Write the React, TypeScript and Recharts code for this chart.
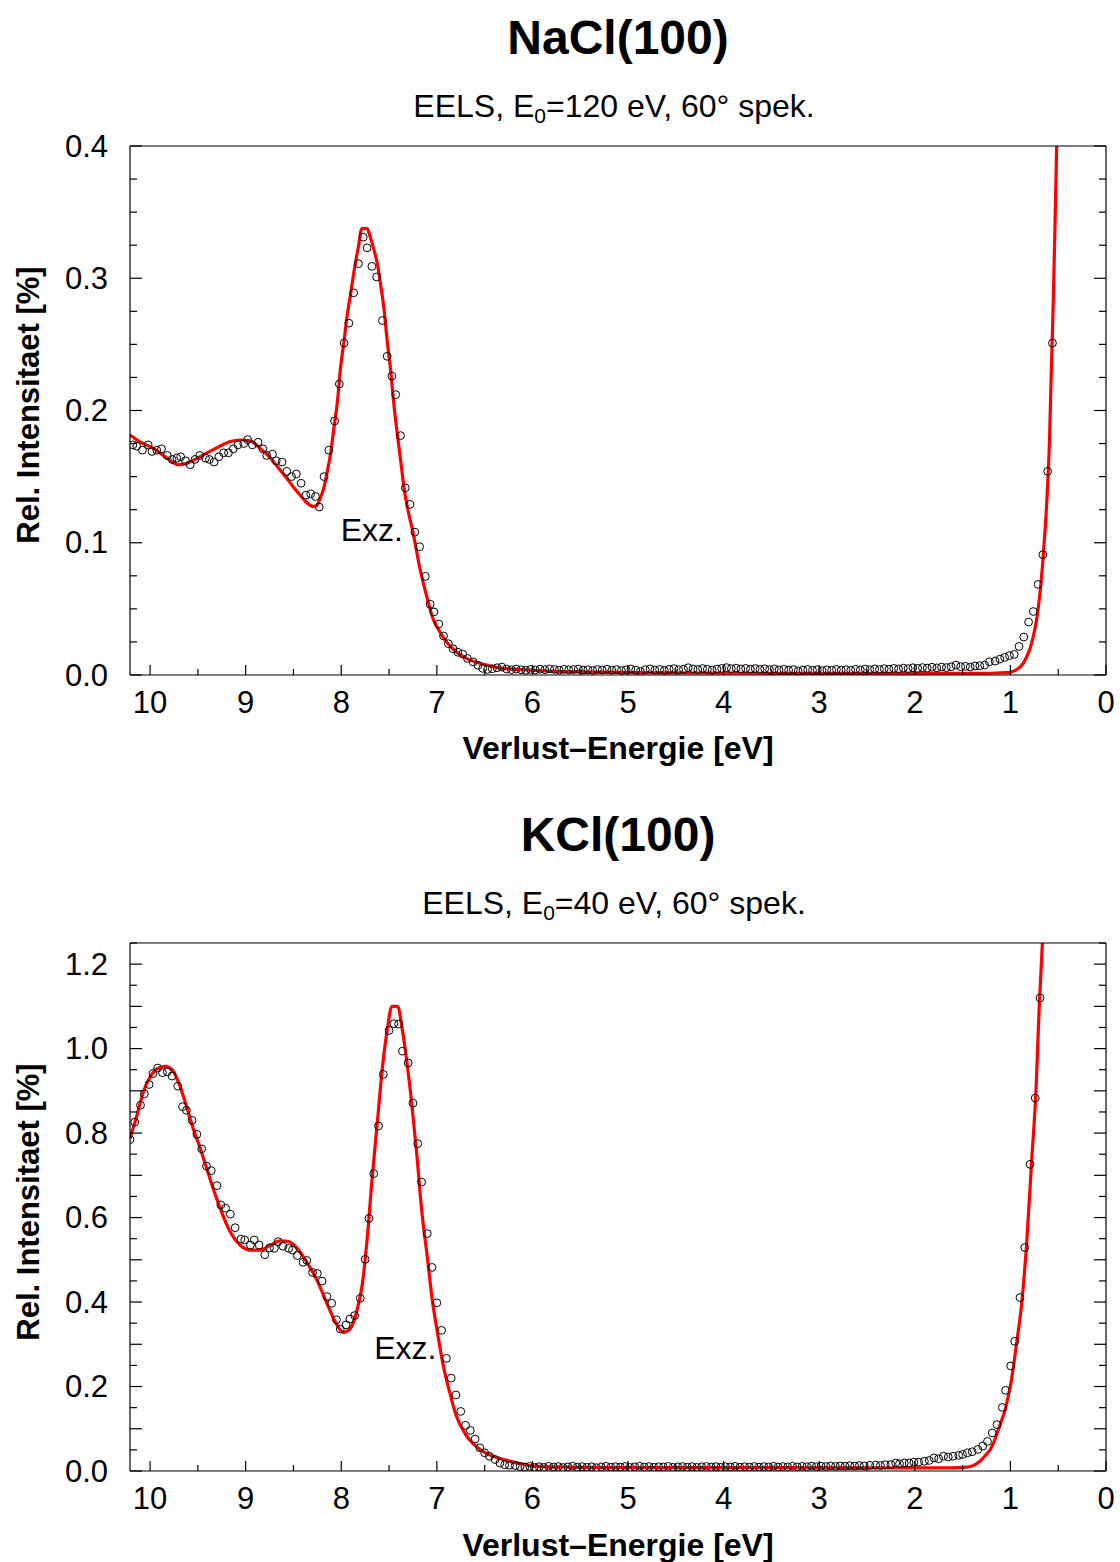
import React from 'react';
import { ComposedChart, Line, Scatter, XAxis, YAxis, ReferenceDot } from 'recharts';

const FONT = "'Liberation Sans', Arial, Helvetica, sans-serif";

// ---------- axis ticks ----------
const X_TICKS = [0, 0.5, 1, 1.5, 2, 2.5, 3, 3.5, 4, 4.5, 5, 5.5, 6, 6.5, 7, 7.5, 8, 8.5, 9, 9.5, 10];
const X_LABELS = [0, 1, 2, 3, 4, 5, 6, 7, 8, 9, 10];
const X_DOMAIN: [number, number] = [0, 10.21];

const NACL_Y_DOMAIN: [number, number] = [0, 0.4];
const NACL_Y_TICKS = [0, 0.025, 0.05, 0.075, 0.1, 0.125, 0.15, 0.175, 0.2, 0.225, 0.25, 0.275, 0.3, 0.325, 0.35, 0.375, 0.4];
const NACL_Y_MAJOR = [0, 0.1, 0.2, 0.3, 0.4];
const NACL_Y_LABELS = [0, 0.1, 0.2, 0.3, 0.4];

const KCL_Y_DOMAIN: [number, number] = [0, 1.25];
const KCL_Y_TICKS = [0, 0.05, 0.1, 0.15, 0.2, 0.25, 0.3, 0.35, 0.4, 0.45, 0.5, 0.55, 0.6, 0.65, 0.7, 0.75, 0.8, 0.85, 0.9, 0.95, 1.0, 1.05, 1.1, 1.15, 1.2, 1.25];
const KCL_Y_MAJOR = [0, 0.1, 0.2, 0.3, 0.4, 0.5, 0.6, 0.7, 0.8, 0.9, 1.0, 1.1, 1.2];
const KCL_Y_LABELS = [0, 0.2, 0.4, 0.6, 0.8, 1.0, 1.2];

// ---------- NaCl(100) data: [energy eV, rel. intensity %] ----------
const naclMeasured: [number, number][] = [
  [10.18, 0.174], [10.14, 0.173], [10.08, 0.170], [10.02, 0.174], [9.98, 0.169], [9.93, 0.170], [9.88, 0.171],
  [9.82, 0.166], [9.77, 0.163], [9.72, 0.164], [9.68, 0.165], [9.63, 0.162], [9.58, 0.159], [9.53, 0.163],
  [9.48, 0.166], [9.42, 0.164], [9.38, 0.163], [9.33, 0.161], [9.28, 0.165], [9.23, 0.168], [9.18, 0.168],
  [9.13, 0.171], [9.08, 0.174], [9.02, 0.175], [8.98, 0.178], [8.93, 0.174], [8.87, 0.176], [8.82, 0.171],
  [8.78, 0.166], [8.72, 0.167], [8.68, 0.162], [8.62, 0.161], [8.57, 0.154], [8.52, 0.150], [8.47, 0.152],
  [8.42, 0.145], [8.37, 0.136], [8.32, 0.137], [8.27, 0.135], [8.23, 0.127], [8.18, 0.150], [8.13, 0.170],
  [8.07, 0.192], [8.02, 0.220], [7.97, 0.251], [7.92, 0.266], [7.87, 0.289], [7.82, 0.311], [7.77, 0.331],
  [7.73, 0.323], [7.68, 0.309], [7.63, 0.301], [7.57, 0.268], [7.52, 0.241], [7.47, 0.226], [7.43, 0.212],
  [7.38, 0.181], [7.33, 0.1415], [7.28, 0.129], [7.23, 0.108], [7.18, 0.097], [7.12, 0.0746], [7.07, 0.0535],
  [7.03, 0.0477], [6.98, 0.0386], [6.93, 0.0295], [6.88, 0.0237], [6.83, 0.0198], [6.78, 0.0172], [6.73, 0.0159],
  [6.68, 0.0125], [6.62, 0.0099], [6.57, 0.0073], [6.52, 0.005], [6.47, 0.0042], [6.42, 0.0047], [6.37, 0.0055],
  [6.32, 0.006], [6.27, 0.0045], [6.22, 0.004], [6.17, 0.0045], [6.12, 0.004], [6.07, 0.0035], [6.02, 0.0042],
  [5.97, 0.0038], [5.92, 0.0044], [5.87, 0.004], [5.82, 0.0046], [5.77, 0.0042], [5.72, 0.0036], [5.67, 0.0043],
  [5.62, 0.0039], [5.57, 0.0041], [5.52, 0.0045], [5.47, 0.0037], [5.42, 0.004], [5.37, 0.0034], [5.32, 0.0042],
  [5.27, 0.0038], [5.22, 0.0044], [5.17, 0.0036], [5.12, 0.0041], [5.07, 0.0033], [5.02, 0.0039], [4.97, 0.0045],
  [4.92, 0.0037], [4.87, 0.0026], [4.82, 0.004], [4.77, 0.0046], [4.72, 0.0038], [4.67, 0.0042], [4.62, 0.0035],
  [4.57, 0.0043], [4.52, 0.0048], [4.47, 0.004], [4.42, 0.0044], [4.37, 0.0055], [4.32, 0.0046], [4.27, 0.0041],
  [4.22, 0.0049], [4.17, 0.0043], [4.12, 0.0038], [4.07, 0.0045], [4.02, 0.005], [3.97, 0.0056], [3.92, 0.0048],
  [3.87, 0.0052], [3.82, 0.0046], [3.77, 0.005], [3.72, 0.0044], [3.67, 0.0049], [3.62, 0.0042], [3.57, 0.0047],
  [3.52, 0.004], [3.47, 0.0046], [3.42, 0.0038], [3.37, 0.0043], [3.32, 0.0036], [3.27, 0.0041], [3.22, 0.003],
  [3.17, 0.0037], [3.12, 0.0042], [3.07, 0.0035], [3.02, 0.004], [2.97, 0.0033], [2.92, 0.0039], [2.87, 0.0036],
  [2.82, 0.0042], [2.77, 0.0037], [2.72, 0.004], [2.67, 0.0035], [2.62, 0.0043], [2.57, 0.0038], [2.52, 0.0045],
  [2.47, 0.004], [2.42, 0.0046], [2.37, 0.0041], [2.32, 0.0048], [2.27, 0.0043], [2.22, 0.005], [2.17, 0.0046],
  [2.12, 0.0052], [2.07, 0.0048], [2.02, 0.0055], [1.97, 0.005], [1.92, 0.0056], [1.87, 0.0052], [1.82, 0.0059],
  [1.77, 0.0054], [1.72, 0.006], [1.67, 0.0056], [1.62, 0.0062], [1.57, 0.0075], [1.52, 0.0063], [1.47, 0.0066],
  [1.42, 0.006], [1.37, 0.0068], [1.32, 0.007], [1.27, 0.0075], [1.22, 0.01], [1.16, 0.0105], [1.11, 0.012],
  [1.06, 0.0133], [1.01, 0.0146], [0.96, 0.0156], [0.91, 0.0216], [0.86, 0.0287], [0.81, 0.04], [0.76, 0.048],
  [0.71, 0.0685], [0.66, 0.091], [0.61, 0.154], [0.56, 0.251],
];

const naclFit: [number, number][] = [
  [10.21, 0.1815], [10.1, 0.176], [9.965, 0.1714], [9.82, 0.1638], [9.7, 0.159], [9.62, 0.16], [9.53, 0.163],
  [9.44, 0.1667], [9.35, 0.17], [9.27, 0.173], [9.16, 0.1765], [9.06, 0.1777], [8.95, 0.177], [8.85, 0.1714],
  [8.78, 0.167], [8.71, 0.1613], [8.64, 0.155], [8.57, 0.1487], [8.5, 0.142], [8.43, 0.136], [8.37, 0.131],
  [8.33, 0.1285], [8.29, 0.1275], [8.26, 0.128], [8.22, 0.1336], [8.18, 0.142], [8.15, 0.1525], [8.11, 0.168],
  [8.08, 0.185], [8.04, 0.207], [8.01, 0.2306], [7.97, 0.253], [7.94, 0.271], [7.9, 0.289], [7.87, 0.3037],
  [7.82, 0.324], [7.785, 0.3376], [7.73, 0.3376], [7.7, 0.332], [7.66, 0.322], [7.62, 0.31], [7.59, 0.296],
  [7.55, 0.275], [7.52, 0.253], [7.48, 0.228], [7.45, 0.205], [7.41, 0.18], [7.38, 0.163], [7.34, 0.14],
  [7.3, 0.124], [7.25, 0.108], [7.18, 0.0815], [7.11, 0.0606], [7.04, 0.0425], [6.98, 0.034], [6.93, 0.0281],
  [6.83, 0.0196], [6.69, 0.0126], [6.51, 0.0081], [6.34, 0.0053], [6.15, 0.0042], [5.99, 0.0034], [5.6, 0.0025],
  [5.29, 0.0021], [4.8, 0.0017], [4.25, 0.0015], [3.5, 0.0013], [2.7, 0.0012], [2.0, 0.0012], [1.5, 0.0012],
  [1.28, 0.0013], [1.15, 0.0015], [1.05, 0.0018], [1.0, 0.002], [0.95, 0.0035], [0.9, 0.0059], [0.86, 0.0095],
  [0.83, 0.0137], [0.79, 0.021], [0.76, 0.0293], [0.73, 0.04], [0.71, 0.05], [0.685, 0.066], [0.66, 0.0867],
  [0.635, 0.112], [0.61, 0.144], [0.59, 0.18], [0.575, 0.222], [0.56, 0.26], [0.55, 0.287], [0.53, 0.352],
  [0.516, 0.4006], [0.5, 0.46],
];

// ---------- KCl(100) data ----------
const kclMeasured: [number, number][] = [
  [10.21, 0.7845], [10.16, 0.826], [10.1, 0.866], [10.06, 0.893], [10.01, 0.915], [9.97, 0.941], [9.92, 0.954],
  [9.87, 0.943], [9.82, 0.945], [9.77, 0.935], [9.71, 0.911], [9.66, 0.8625], [9.62, 0.854], [9.56, 0.83],
  [9.51, 0.797], [9.46, 0.7626], [9.41, 0.722], [9.36, 0.711], [9.3, 0.6756], [9.26, 0.63], [9.21, 0.622],
  [9.16, 0.608], [9.11, 0.576], [9.05, 0.549], [9.01, 0.547], [8.95, 0.535], [8.91, 0.547], [8.86, 0.535],
  [8.8, 0.512], [8.75, 0.528], [8.7, 0.527], [8.66, 0.543], [8.61, 0.532], [8.55, 0.527], [8.51, 0.523],
  [8.46, 0.51], [8.4, 0.494], [8.36, 0.4985], [8.3, 0.47], [8.25, 0.4676], [8.2, 0.4496], [8.15, 0.413],
  [8.1, 0.397], [8.05, 0.358], [8.01, 0.336], [7.95, 0.346], [7.91, 0.36], [7.86, 0.368], [7.8, 0.409],
  [7.75, 0.501], [7.71, 0.598], [7.66, 0.704], [7.61, 0.817], [7.56, 0.939], [7.5, 1.043], [7.45, 1.059],
  [7.4, 1.058], [7.36, 0.994], [7.3, 0.966], [7.25, 0.871], [7.2, 0.775], [7.16, 0.684], [7.1, 0.562],
  [7.05, 0.482], [7.0, 0.398], [6.95, 0.333], [6.9, 0.2667], [6.85, 0.22], [6.8, 0.18], [6.75, 0.141],
  [6.7, 0.108], [6.65, 0.096], [6.6, 0.0756], [6.55, 0.055], [6.5, 0.043], [6.45, 0.035], [6.39, 0.027],
  [6.34, 0.0187], [6.29, 0.0147], [6.24, 0.0135], [6.18, 0.013], [6.13, 0.0106], [6.08, 0.0095], [6.03, 0.011],
  [5.98, 0.0088], [5.93, 0.0102], [5.88, 0.0085], [5.83, 0.0112], [5.78, 0.0094], [5.73, 0.0105], [5.68, 0.0082],
  [5.63, 0.0098], [5.58, 0.0114], [5.53, 0.009], [5.48, 0.0104], [5.43, 0.0086], [5.38, 0.01], [5.33, 0.0078],
  [5.28, 0.0096], [5.23, 0.011], [5.18, 0.0088], [5.13, 0.0102], [5.08, 0.0092], [5.03, 0.0108], [4.98, 0.0084],
  [4.93, 0.0099], [4.88, 0.0112], [4.83, 0.0093], [4.78, 0.0105], [4.73, 0.0087], [4.68, 0.0101], [4.63, 0.0094],
  [4.58, 0.011], [4.53, 0.0086], [4.48, 0.0098], [4.43, 0.0106], [4.38, 0.009], [4.33, 0.0103], [4.28, 0.0085],
  [4.23, 0.0099], [4.18, 0.0108], [4.13, 0.0092], [4.08, 0.0104], [4.03, 0.0088], [3.98, 0.0101], [3.93, 0.0095],
  [3.88, 0.011], [3.83, 0.0089], [3.78, 0.0102], [3.73, 0.0093], [3.68, 0.0107], [3.63, 0.009], [3.58, 0.0104],
  [3.53, 0.0096], [3.48, 0.0112], [3.43, 0.0094], [3.38, 0.0106], [3.33, 0.0098], [3.28, 0.0113], [3.23, 0.0097],
  [3.18, 0.0109], [3.13, 0.01], [3.08, 0.0116], [3.03, 0.0102], [2.98, 0.0112], [2.93, 0.0105], [2.88, 0.0119],
  [2.83, 0.0108], [2.78, 0.0121], [2.73, 0.0112], [2.68, 0.0126], [2.63, 0.0117], [2.58, 0.0128], [2.53, 0.0122],
  [2.47, 0.0134], [2.41, 0.014], [2.36, 0.013], [2.31, 0.015], [2.25, 0.015], [2.2, 0.019], [2.16, 0.017],
  [2.11, 0.019], [2.06, 0.019], [2.01, 0.021], [1.96, 0.021], [1.9, 0.023], [1.85, 0.025], [1.8, 0.031],
  [1.75, 0.029], [1.7, 0.035], [1.65, 0.033], [1.6, 0.035], [1.54, 0.037], [1.5, 0.039], [1.45, 0.043],
  [1.4, 0.0456], [1.34, 0.051], [1.29, 0.059], [1.24, 0.07], [1.19, 0.09], [1.14, 0.1098], [1.085, 0.1505],
  [1.05, 0.191], [0.997, 0.249], [0.955, 0.307], [0.9, 0.4106], [0.85, 0.529], [0.795, 0.726], [0.74, 0.883],
  [0.69, 1.12],
];

const kclFit: [number, number][] = [
  [10.21, 0.787], [10.14, 0.84], [10.07, 0.897], [10.0, 0.933], [9.91, 0.954], [9.84, 0.958], [9.77, 0.95],
  [9.69, 0.913], [9.62, 0.864], [9.55, 0.8115], [9.48, 0.767], [9.41, 0.718], [9.34, 0.669], [9.27, 0.624],
  [9.2, 0.584], [9.13, 0.554], [9.06, 0.535], [8.95, 0.523], [8.85, 0.523], [8.74, 0.535], [8.64, 0.545],
  [8.55, 0.543], [8.46, 0.527], [8.36, 0.494], [8.25, 0.4496], [8.15, 0.397], [8.05, 0.348], [7.98, 0.328],
  [7.91, 0.336], [7.84, 0.3765], [7.78, 0.4415], [7.73, 0.547], [7.68, 0.685], [7.62, 0.832], [7.57, 0.954],
  [7.52, 1.043], [7.47, 1.1], [7.41, 1.1], [7.36, 1.043], [7.31, 0.962], [7.26, 0.864], [7.21, 0.75],
  [7.16, 0.62], [7.1, 0.5065], [7.05, 0.409], [7.0, 0.336], [6.93, 0.2464], [6.86, 0.1814], [6.8, 0.1325],
  [6.69, 0.0838], [6.55, 0.051], [6.41, 0.035], [6.27, 0.0252], [6.13, 0.0175], [5.99, 0.0115], [5.7, 0.009],
  [5.29, 0.0083], [4.5, 0.008], [3.5, 0.0078], [2.5, 0.0076], [1.8, 0.0072], [1.6, 0.0075], [1.5, 0.0085],
  [1.42, 0.0106], [1.37, 0.015], [1.32, 0.023], [1.27, 0.035], [1.21, 0.051], [1.17, 0.07], [1.135, 0.092],
  [1.1, 0.115], [1.06, 0.141], [1.02, 0.18], [0.99, 0.214], [0.94, 0.295], [0.88, 0.401], [0.83, 0.539],
  [0.78, 0.726], [0.73, 0.913], [0.7, 1.092], [0.665, 1.25], [0.64, 1.35],
];

const toRows = (arr: [number, number][]) => arr.map(([e, v]) => ({ e, v }));

const has = (list: number[], v: number) => list.some((m) => Math.abs(m - v) < 1e-6);

const makeXTick = (side: 'bottom' | 'top') => (props: any) => {
  const { x, y, payload } = props;
  const v = payload.value;
  const major = has(X_LABELS, v);
  const len = major ? 10 : 6;
  const dir = side === 'bottom' ? -1 : 1;
  return (
    <g>
      <line x1={x} x2={x} y1={y} y2={y + dir * len} stroke="#000" strokeWidth={1.2} />
      {side === 'bottom' && major && (
        <text x={x} y={y + 27} textAnchor="middle" dominantBaseline="central" fontSize={31} fontFamily={FONT} fill="#000">
          {String(v)}
        </text>
      )}
    </g>
  );
};

const makeYTick = (side: 'left' | 'right', majors: number[], labels: number[]) => (props: any) => {
  const { x, y, payload } = props;
  const v = payload.value;
  const len = has(majors, v) ? 12 : 7;
  const dir = side === 'left' ? 1 : -1;
  return (
    <g>
      <line x1={x} x2={x + dir * len} y1={y} y2={y} stroke="#000" strokeWidth={1.2} />
      {side === 'left' && has(labels, v) && (
        <text x={x - 22} y={y} textAnchor="end" dominantBaseline="central" fontSize={31} fontFamily={FONT} fill="#000">
          {v.toFixed(1)}
        </text>
      )}
    </g>
  );
};

const OpenCircle = (props: any) => {
  const { cx, cy } = props;
  if (cx == null || cy == null) return null;
  return <circle cx={cx} cy={cy} r={3.9} fill="none" stroke="#000" strokeWidth={1} />;
};

type PanelProps = {
  top: number;
  height: number;
  xAxisHeight: number;
  measured: [number, number][];
  fit: [number, number][];
  yDomain: [number, number];
  yTicks: number[];
  yMajor: number[];
  yLabels: number[];
  exz: [number, number];
};

const axisLineStyle = { stroke: '#000', strokeWidth: 1.2 };

function Panel(p: PanelProps) {
  return (
    <div style={{ position: 'absolute', left: 0, top: p.top, width: 1120, height: p.height }}>
      <ComposedChart width={1120} height={p.height} margin={{ top: 146, right: 14, bottom: 0, left: 0 }}>
        <XAxis
          xAxisId="x" dataKey="e" type="number" domain={X_DOMAIN} reversed allowDataOverflow
          ticks={X_TICKS} interval={0} tickSize={0} tickMargin={0} tickLine={false}
          axisLine={axisLineStyle} height={p.xAxisHeight} tick={makeXTick('bottom')}
        />
        <XAxis
          xAxisId="xt" orientation="top" mirror type="number" domain={X_DOMAIN} reversed allowDataOverflow
          ticks={X_TICKS} interval={0} tickSize={0} tickMargin={0} tickLine={false}
          axisLine={axisLineStyle} height={30} tick={makeXTick('top')}
        />
        <YAxis
          yAxisId="y" dataKey="v" type="number" domain={p.yDomain} allowDataOverflow
          ticks={p.yTicks} interval={0} tickSize={0} tickMargin={0} tickLine={false}
          axisLine={axisLineStyle} width={130} tick={makeYTick('left', p.yMajor, p.yLabels)}
        />
        <YAxis
          yAxisId="yr" orientation="right" mirror type="number" domain={p.yDomain} allowDataOverflow
          ticks={p.yTicks} interval={0} tickSize={0} tickMargin={0} tickLine={false}
          axisLine={axisLineStyle} width={30} tick={makeYTick('right', p.yMajor, p.yLabels)}
        />
        <Scatter
          xAxisId="x" yAxisId="y" data={toRows(p.measured)} dataKey="v"
          shape={OpenCircle} isAnimationActive={false}
        />
        <Line
          xAxisId="x" yAxisId="y" data={toRows(p.fit)} dataKey="v" type="monotone"
          stroke="#ff0000" strokeWidth={3.2} dot={false} activeDot={false} isAnimationActive={false}
        />
        <ReferenceDot
          xAxisId="x" yAxisId="y" x={p.exz[0]} y={p.exz[1]} r={0} fill="none" stroke="none"
          label={{ value: 'Exz.', position: 'center', fontSize: 32, fill: '#000', fontFamily: FONT }}
        />
      </ComposedChart>
    </div>
  );
}

function Titles() {
  const block = (dy: number, title: string, energy: string) => (
    <g>
      <text x={618} y={37 + dy} textAnchor="middle" dominantBaseline="central" fontSize={48} fontWeight="bold" fontFamily={FONT} fill="#000">
        {title}
      </text>
      <text x={614} y={106 + dy} textAnchor="middle" dominantBaseline="central" fontSize={32} fontFamily={FONT} fill="#000">
        EELS, E<tspan fontSize={21} dy={9}>0</tspan>
        <tspan dy={-9}>{`=${energy} eV, 60° spek.`}</tspan>
      </text>
      <text x={618} y={748 + dy} textAnchor="middle" dominantBaseline="central" fontSize={32} fontWeight="bold" fontFamily={FONT} fill="#000">
        Verlust–Energie [eV]
      </text>
      <text transform={`translate(28, ${405 + dy}) rotate(-90)`} textAnchor="middle" dominantBaseline="central" fontSize={31} fontWeight="bold" fontFamily={FONT} fill="#000">
        Rel. Intensitaet [%]
      </text>
    </g>
  );
  return (
    <svg width={1120} height={1562} style={{ position: 'absolute', left: 0, top: 0, pointerEvents: 'none' }}>
      {block(0, 'NaCl(100)', '120')}
      {block(797, 'KCl(100)', '40')}
    </svg>
  );
}

export default function App() {
  return (
    <div style={{ position: 'absolute', left: 0, top: 0, width: 1120, height: 1562, background: '#fff', overflow: 'hidden' }}>
      <Panel
        top={0} height={780} xAxisHeight={105}
        measured={naclMeasured} fit={naclFit}
        yDomain={NACL_Y_DOMAIN} yTicks={NACL_Y_TICKS} yMajor={NACL_Y_MAJOR} yLabels={NACL_Y_LABELS}
        exz={[7.68, 0.11]}
      />
      <Panel
        top={797} height={765} xAxisHeight={91}
        measured={kclMeasured} fit={kclFit}
        yDomain={KCL_Y_DOMAIN} yTicks={KCL_Y_TICKS} yMajor={KCL_Y_MAJOR} yLabels={KCL_Y_LABELS}
        exz={[7.33, 0.293]}
      />
      <Titles />
    </div>
  );
}
